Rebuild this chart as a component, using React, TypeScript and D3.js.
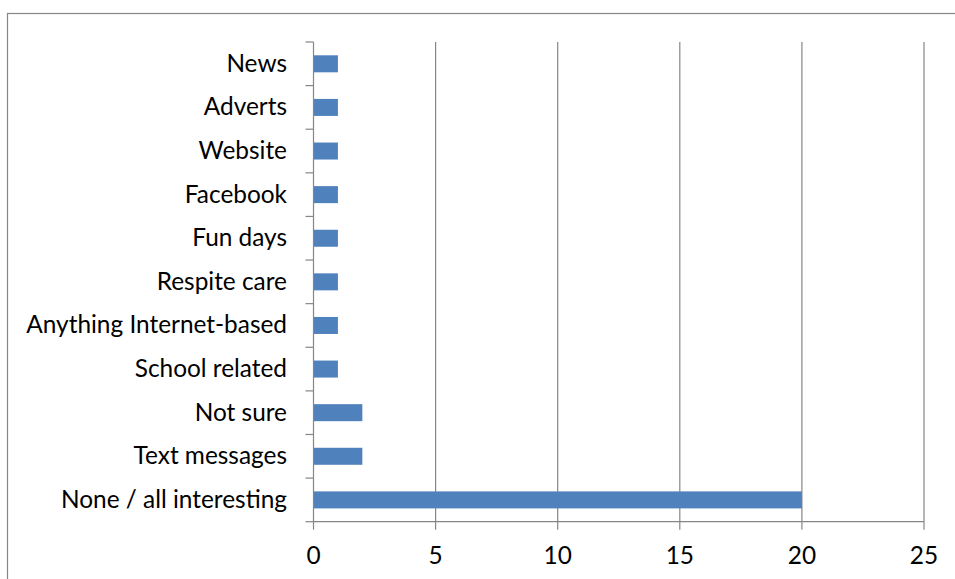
import React from "react";
import * as d3 from "d3";

const categories = [
  "News",
  "Adverts",
  "Website",
  "Facebook",
  "Fun days",
  "Respite care",
  "Anything Internet-based",
  "School related",
  "Not sure",
  "Text messages",
  "None / all interesting",
];
const values = [1, 1, 1, 1, 1, 1, 1, 1, 2, 2, 20];
const xTicks = [0, 5, 10, 15, 20, 25];

export default function App() {
  const W = 955, H = 579;
  const left = 313.5, right = 924, top = 42, bottom = 521.7;
  const x = d3.scaleLinear().domain([0, 25]).range([left, right]);
  const y = d3.scaleBand().domain(categories).range([top, bottom]).paddingInner(0.61).paddingOuter(0.305);
  const yb = d3.scaleBand().domain(categories).range([top, bottom]);
  const grid = "#868686";
  const font = "Lato, 'Open Sans', sans-serif";
  const fs = 24.4;
  return (
    <svg width={W} height={H} style={{ position: "absolute", left: 0, top: 0 }}>
      <rect x={0} y={0} width={W} height={H} fill="#fff" />
      <rect x={7.5} y={13.5} width={W + 20} height={H + 20} fill="none" stroke={grid} strokeWidth={1.2} />
      {xTicks.slice(1).map((t) => (
        <line key={"g" + t} x1={x(t)} x2={x(t)} y1={top} y2={bottom} stroke={grid} strokeWidth={1.2} />
      ))}
      {categories.map((c, i) => (
        <rect key={c} x={x(0)} y={y(c)!} width={x(values[i]) - x(0)} height={y.bandwidth()} fill="#4F81BD" />
      ))}
      <line x1={left} x2={left} y1={top} y2={bottom} stroke={grid} strokeWidth={1.2} />
      <line x1={left} x2={right} y1={bottom} y2={bottom} stroke={grid} strokeWidth={1.2} />
      {categories.map((c) => (
        <line key={"yt" + c} x1={left - 8} x2={left} y1={yb(c)!} y2={yb(c)!} stroke={grid} strokeWidth={1.2} />
      ))}
      <line x1={left - 8} x2={left} y1={bottom} y2={bottom} stroke={grid} strokeWidth={1.2} />
      {xTicks.map((t) => (
        <line key={"xt" + t} x1={x(t)} x2={x(t)} y1={bottom} y2={bottom + 8} stroke={grid} strokeWidth={1.2} />
      ))}
      {categories.map((c) => (
        <text key={"l" + c} x={287} y={yb(c)! + yb.bandwidth() / 2 + 8} textAnchor="end" fontFamily={font} fontSize={fs} fill="#000">
          {c}
        </text>
      ))}
      {xTicks.map((t) => (
        <text key={"xl" + t} x={x(t)} y={564} textAnchor="middle" fontFamily={font} fontSize={fs} fill="#000">
          {t}
        </text>
      ))}
    </svg>
  );
}
